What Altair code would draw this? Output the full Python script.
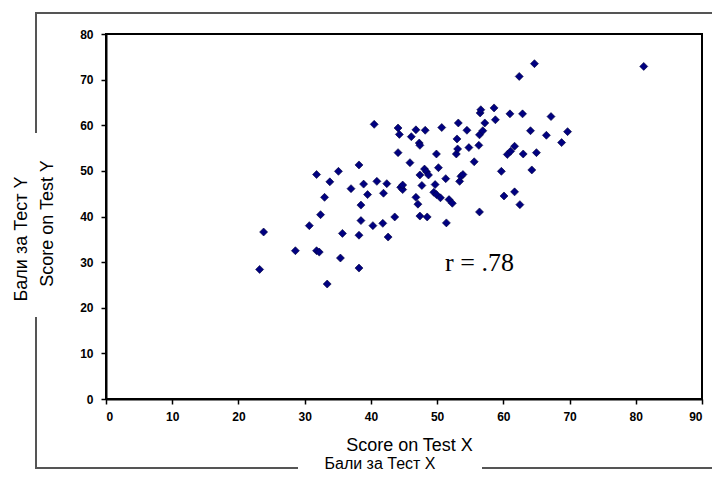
import altair as alt
import pandas as pd

# Scores
score_x = [23.2, 23.8, 28.6, 30.7, 31.8, 31.8, 32.2, 32.4, 33.0, 33.4,
           33.8, 35.1, 35.4, 35.7, 37.0, 38.2, 38.2, 38.2, 38.5, 38.5,
           38.9, 39.5, 40.3, 40.5, 40.9, 41.8, 41.9, 42.4, 42.6, 43.6,
           44.1, 44.1, 44.3, 44.5, 44.8, 44.8, 45.9, 46.1, 46.8, 46.8,
           47.1, 47.3, 47.4, 47.4, 47.4, 47.7, 48.1, 48.2, 48.4, 48.5,
           48.7, 49.5, 49.7, 49.9, 49.9, 50.2, 50.5, 50.7, 51.3, 51.4,
           51.8, 52.3, 52.9, 53.0, 53.1, 53.2, 53.4, 53.6, 53.9, 54.5,
           54.8, 55.6, 56.3, 56.4, 56.4, 56.5, 56.6, 56.9, 57.2, 58.6,
           58.8, 59.7, 60.1, 60.6, 61.0, 61.1, 61.7, 61.7, 62.4, 62.5,
           62.9, 63.0, 64.1, 64.3, 64.7, 65.0, 66.5, 67.2, 68.8, 69.7,
           81.2]
score_y = [28.4, 36.6, 32.5, 38.0, 49.2, 32.5, 32.2, 40.4, 44.2, 25.2,
           47.6, 49.9, 30.9, 36.3, 46.1, 51.3, 28.7, 35.9, 42.5, 39.1,
           47.1, 44.8, 38.0, 60.2, 47.7, 38.5, 45.1, 47.2, 35.5, 39.9,
           59.4, 54.0, 58.0, 46.4, 45.9, 46.9, 51.8, 57.5, 59.0, 44.2,
           42.7, 56.1, 55.6, 49.1, 40.1, 46.8, 50.4, 58.9, 49.8, 39.9,
           49.1, 45.3, 47.0, 53.7, 44.8, 50.7, 44.1, 59.5, 48.3, 38.6,
           43.7, 42.9, 53.7, 57.0, 54.8, 60.5, 47.7, 48.8, 49.2, 58.9,
           55.1, 52.0, 55.6, 57.9, 41.0, 62.7, 63.4, 58.8, 60.5, 63.8,
           61.2, 49.9, 44.5, 53.6, 62.5, 54.3, 55.4, 45.4, 70.7, 42.6,
           62.5, 53.7, 58.8, 50.2, 73.5, 54.0, 57.8, 61.9, 56.2, 58.6,
           72.9]

x_ticks = [0, 10, 20, 30, 40, 50, 60, 70, 80, 90]
y_ticks = [0, 10, 20, 30, 40, 50, 60, 70, 80]

note_text = ["r = .78"]
note_x = [56.4]
note_y = [29.8]

df = pd.DataFrame({"x": score_x, "y": score_y})
note_df = pd.DataFrame({"x": note_x, "y": note_y, "t": note_text})

FONT = "Liberation Sans"

x_enc = alt.X(
    "x:Q",
    scale=alt.Scale(domain=[0, 90], nice=False, zero=True),
    axis=alt.Axis(
        values=x_ticks, grid=False, domainColor="black", domainWidth=2,
        tickColor="black", tickSize=5, tickWidth=1.5,
        labelFont=FONT, labelFontSize=12, labelFontWeight="bold",
        labelColor="black", labelPadding=7,
        title="Score on Test X", titleFont=FONT, titleFontSize=18,
        titleFontWeight="normal", titleColor="black",
        titleX=303, titleY=46, titleBaseline="middle", titleAlign="center",
    ),
)
y_enc = alt.Y(
    "y:Q",
    scale=alt.Scale(domain=[0, 80], nice=False, zero=True),
    axis=alt.Axis(
        values=y_ticks, grid=False, domainColor="black", domainWidth=2,
        tickColor="black", tickSize=5, tickWidth=1.5,
        labelFont=FONT, labelFontSize=12, labelFontWeight="bold",
        labelColor="black", labelPadding=8,
        title="Score on Test Y", titleFont=FONT, titleFontSize=18,
        titleFontWeight="normal", titleColor="black",
        titleX=-59, titleY=189, titleBaseline="middle", titleAlign="center",
        titleAngle=270,
    ),
)

points = alt.Chart(df).mark_point(
    shape="diamond", filled=True, size=64, color="#000080", opacity=1,
    stroke="#00003a", strokeWidth=0.6,
).encode(x=x_enc, y=y_enc)

note = alt.Chart(note_df).mark_text(
    font="Liberation Serif", fontSize=26, color="black",
    align="center", baseline="middle",
).encode(x="x:Q", y="y:Q", text="t:N")

one = alt.Data(values=[{}])
FRAME = "#555555"


def hline(x1, x2, y):
    return alt.Chart(one).mark_rule(color=FRAME, strokeWidth=2).encode(
        x=alt.value(x1), x2=alt.value(x2), y=alt.value(y))


def vline(x, y1, y2):
    return alt.Chart(one).mark_rule(color=FRAME, strokeWidth=2).encode(
        x=alt.value(x), y=alt.value(y1), y2=alt.value(y2))


frame = [
    hline(-70, 640, -21),
    vline(-70, -22, 99),
    vline(-70, 283, 435),
    hline(-71, 192, 434),
    hline(376, 640, 434),
]

outer_y = alt.Chart(one).mark_text(
    font=FONT, fontSize=18, color="black", angle=270,
    align="center", baseline="middle",
).encode(x=alt.value(-84), y=alt.value(205), text=alt.value("Бали за Тест Y"))

outer_x = alt.Chart(one).mark_text(
    font=FONT, fontSize=16, color="black",
    align="center", baseline="middle",
).encode(x=alt.value(274), y=alt.value(430), text=alt.value("Бали за Тест X"))

chart = alt.layer(*frame, points, note, outer_y, outer_x).properties(
    width=596, height=365,
    autosize=alt.AutoSizeParams(type="none"),
    padding={"left": 98, "top": 26, "right": 10, "bottom": 77},
    background="white",
).configure_view(stroke="black", strokeWidth=2)

chart.save("out.html", embed_options={"renderer": "svg", "actions": False})
